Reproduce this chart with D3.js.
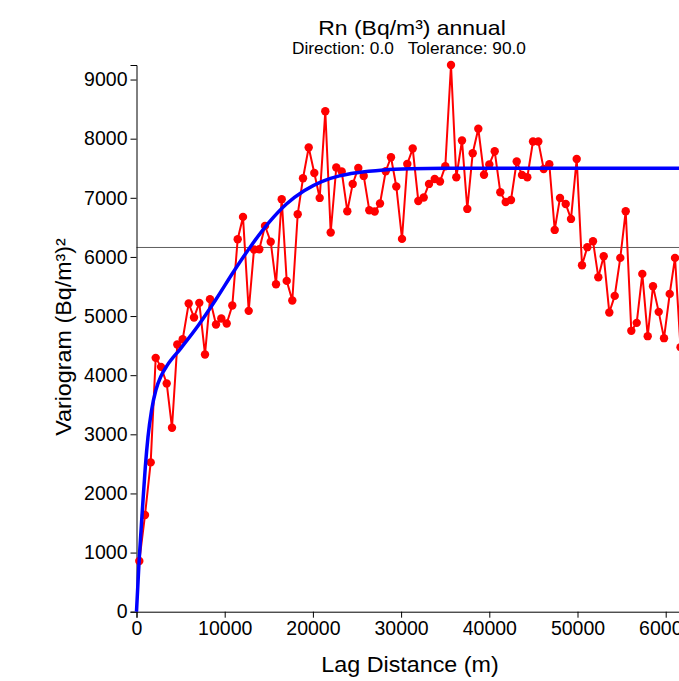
<!DOCTYPE html>
<html>
<head>
<meta charset="utf-8">
<script src="https://cdn.jsdelivr.net/npm/d3@7"></script>
<style>
  html, body { margin: 0; padding: 0; background: #fff; overflow: hidden; }
  svg { display: block; font-family: "Liberation Sans", Arial, Helvetica, sans-serif; }
</style>
</head>
<body>
<svg id="chart" width="679" height="681"></svg>
<script>
// ---- data ----
const titleText = "Rn (Bq/m³) annual";
const subtitleText = "Direction: 0.0   Tolerance: 90.0";
const xLabel = "Lag Distance (m)";
const yLabel = "Variogram (Bq/m³)²";

const lagDistance = [
  317, 964, 1610, 2177, 2778, 3424, 4025, 4626, 5238, 5918,
  6519, 7120, 7767, 8333, 9014, 9615, 10227, 10862, 11474, 12075,
  12721, 13322, 13923, 14569, 15216, 15817, 16463, 17030, 17665, 18277,
  18878, 19524, 20159, 20771, 21406, 22018, 22653, 23266, 23901, 24513,
  25148, 25760, 26395, 27007, 27608, 28255, 28855, 29456, 30103, 30703,
  31316, 31951, 32563, 33164, 33810, 34411, 35012, 35658, 36259, 36905,
  37506, 38118, 38753, 39400, 40001, 40613, 41248, 41860, 42461, 43107,
  43708, 44309, 44955, 45556, 46168, 46803, 47416, 48017, 48663, 49264,
  49910, 50511, 51112, 51758, 52359, 52971, 53606, 54219, 54853, 55466,
  56101, 56713, 57348, 57960, 58561, 59207, 59808, 60454, 61055, 61679
];
const variogram = [
  857, 1635, 2525, 4293, 4141, 3861, 3110, 4520, 4609, 5213,
  4976, 5223, 4351, 5286, 4858, 4959, 4875, 5179, 6300, 6677,
  5088, 6126, 6130, 6525, 6258, 5539, 6976, 5595, 5264, 6722,
  7331, 7850, 7420, 6998, 8463, 6413, 7512, 7444, 6773, 7235,
  7505, 7370, 6790, 6768, 6903, 7449, 7686, 7191, 6305, 7573,
  7833, 6947, 7005, 7235, 7319, 7275, 7534, 9246, 7348, 7968,
  6812, 7754, 8168, 7390, 7564, 7787, 7094, 6930, 6964, 7613,
  7387, 7348, 7951, 7951, 7488, 7567, 6457, 6998, 6896, 6643,
  7657, 5860, 6165, 6266, 5657, 6012, 5061, 5341, 5984, 6773,
  4750, 4885, 5713, 4660, 5505, 5071, 4626, 5375, 5984, 4474
];

// fitted model curve
const modelDistance = [0, 300, 700, 1000, 1300, 1700, 2200, 2800, 3500, 5000, 7000, 9000, 11000, 13000, 15000, 17000, 19000, 21000, 23000, 25000, 28000, 31000, 35000, 70000];
const modelValue    = [0, 870, 1800, 2450, 2950, 3400, 3750, 3990, 4170, 4450, 4840, 5280, 5750, 6190, 6580, 6895, 7120, 7275, 7370, 7425, 7472, 7492, 7500, 7500];

const sampleVariance = 6160;

const xTicks = [0, 10000, 20000, 30000, 40000, 50000, 60000];
const yTicks = [0, 1000, 2000, 3000, 4000, 5000, 6000, 7000, 8000, 9000];

// ---- layout ----
const svg = d3.select("#chart");
const plotLeft = 136.5, plotTop = 65, plotBottom = 611.7;
const xMax = 62100, yMax = 9246;
const x = d3.scaleLinear().domain([0, xMax]).range([plotLeft, plotLeft + xMax * 0.00882]);
const y = d3.scaleLinear().domain([0, yMax]).range([plotBottom, plotTop]);

// sample variance line
svg.append("line")
  .attr("x1", x(0)).attr("x2", x(xMax))
  .attr("y1", y(sampleVariance)).attr("y2", y(sampleVariance))
  .attr("stroke", "#5e5e5e").attr("stroke-width", 1);

// axes
const xAxis = d3.axisBottom(x).tickValues(xTicks).tickFormat(d3.format("d")).tickSizeOuter(0).tickSize(6).tickPadding(3);
const yAxis = d3.axisLeft(y).tickValues(yTicks).tickFormat(d3.format("d")).tickSizeOuter(0).tickSize(6).tickPadding(3);

const gx = svg.append("g").attr("transform", `translate(0,${plotBottom})`).call(xAxis);
const gy = svg.append("g").attr("transform", `translate(${plotLeft},0)`).call(yAxis);
[gx, gy].forEach(g => {
  g.select(".domain").attr("stroke", "#000").attr("stroke-width", 1);
  g.selectAll(".tick line").attr("stroke", "#000");
  g.selectAll(".tick text").attr("fill", "#000").style("font-size", "19.5px")
    .style("font-family", "'Liberation Sans', Arial, sans-serif");
});

// experimental variogram
const pts = lagDistance.map((d, i) => [d, variogram[i]]);
svg.append("path")
  .datum(pts)
  .attr("fill", "none")
  .attr("stroke", "#ff0000")
  .attr("stroke-width", 2)
  .attr("d", d3.line().x(d => x(d[0])).y(d => y(d[1])));

svg.append("g").selectAll("circle")
  .data(pts).join("circle")
  .attr("cx", d => x(d[0])).attr("cy", d => y(d[1]))
  .attr("r", 4.2).attr("fill", "#ff0000");

// model
const model = modelDistance.map((d, i) => [d, modelValue[i]]);
svg.append("path")
  .datum(model)
  .attr("fill", "none")
  .attr("stroke", "#0000ff")
  .attr("stroke-width", 3.5)
  .attr("d", d3.line().curve(d3.curveMonotoneX).x(d => x(d[0])).y(d => y(d[1])));

// titles (slightly wide lettering like the reference)
svg.append("text").attr("transform", "translate(412,35) scale(1.12,1)").attr("text-anchor", "middle")
  .style("font-size", "20.5px").attr("fill", "#000").text(titleText);
svg.append("text").attr("transform", "translate(409,54) scale(1.08,1)").attr("text-anchor", "middle")
  .style("font-size", "16px").attr("fill", "#000")
  .style("white-space", "pre").text(subtitleText);

svg.append("text").attr("transform", "translate(410,672) scale(1.06,1)").attr("text-anchor", "middle")
  .style("font-size", "22px").attr("fill", "#000").text(xLabel);
svg.append("text").attr("transform", "translate(71,337) rotate(-90) scale(1.06,1)").attr("text-anchor", "middle")
  .style("font-size", "22px").attr("fill", "#000").text(yLabel);
</script>
</body>
</html>
